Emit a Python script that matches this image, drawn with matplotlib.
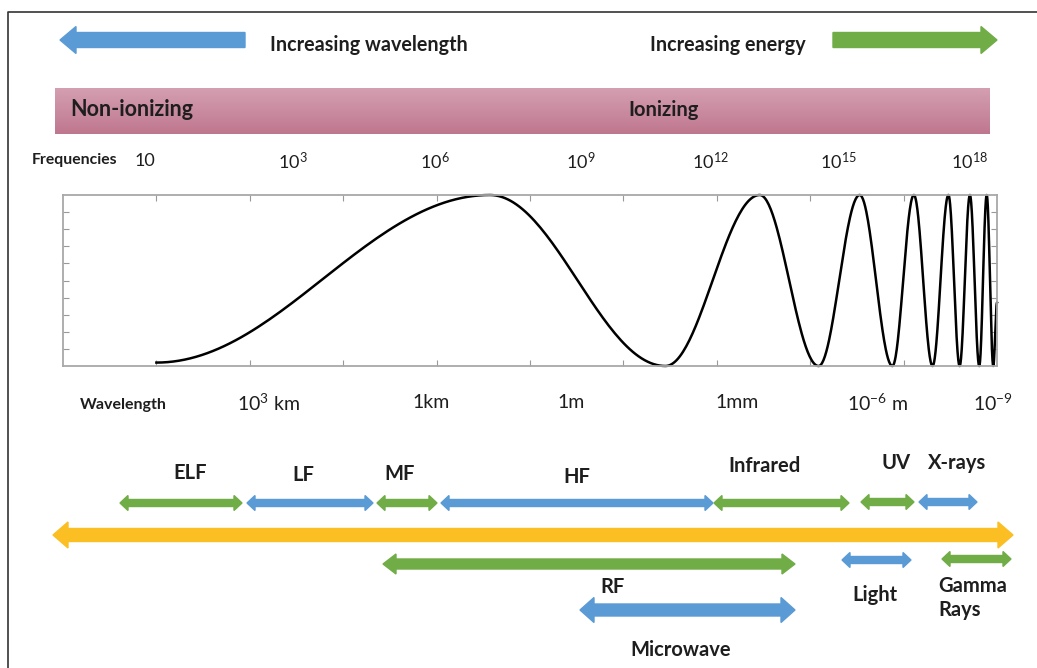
import numpy as np
import matplotlib
matplotlib.use('Agg')
import matplotlib.pyplot as plt
from matplotlib.patches import Polygon
from matplotlib.colors import LinearSegmentedColormap

plt.rcParams['font.family'] = ['Lato', 'DejaVu Sans']
plt.rcParams['mathtext.default'] = 'regular'

BLUE = '#5b9bd5'
GREEN = '#70ad47'
YELLOW = '#fbbf24'
TXT = '#1e1e1e'

# frequency / wavelength scale labels
freq_labels = ['10', '$10^{3}$', '$10^{6}$', '$10^{9}$', '$10^{12}$', '$10^{15}$', '$10^{18}$']
freq_pos = [0.88, 2.46, 3.98, 5.54, 6.93, 8.30, 9.71]
wave_labels = ['$10^{3}$ km', '1km', '1m', '1mm', '$10^{-6}$ m', '$10^{-9}$']
wave_pos = [2.2, 3.94, 5.44, 7.22, 8.72, 9.96]

# wave extrema (x in axis units, y 0..10)
ext_x = [1.0, 4.57, 6.45, 7.46, 8.09, 8.53, 8.88, 9.11, 9.31, 9.48, 9.60, 9.71, 9.81, 9.89, 9.96, 10.0]
ext_y = [0.2, 10, 0, 10, 0, 10, 0, 10, 0, 10, 0, 10, 0, 10, 0, 3.7]

# bands: name, start, end, row
band_names = ['ELF', 'LF', 'MF', 'HF', 'Infrared', 'UV', 'X-rays', 'RF', 'Light', 'Gamma\nRays', 'Microwave']
band_start = [120, 247, 377, 441, 714, 861, 919, 383, 842, 942, 580]
band_end = [242, 373, 437, 713, 849, 914, 977, 795, 911, 1011, 795]
band_color = [GREEN, BLUE, GREEN, BLUE, GREEN, GREEN, BLUE, GREEN, BLUE, GREEN, BLUE]
band_y = [503, 503, 503, 503, 503, 502, 502, 564, 560, 559, 610]
label_xy = [(190, 473), (303, 475), (400, 474), (577, 477), (765, 466), (896, 463), (957, 463),
            (612, 587), (875, 595), (938, 598), (681, 650)]


def arrow_poly(x0, x1, y, body, head, hlen, left=True, right=True):
    hb, hh = body / 2, head / 2
    pts = []
    if left:
        pts += [(x0, y), (x0 + hlen, y - hh), (x0 + hlen, y - hb)]
    else:
        pts += [(x0, y + hb), (x0, y - hb)]
    if right:
        pts += [(x1 - hlen, y - hb), (x1 - hlen, y - hh), (x1, y), (x1 - hlen, y + hh), (x1 - hlen, y + hb)]
    else:
        pts += [(x1, y - hb), (x1, y + hb)]
    if left:
        pts += [(x0 + hlen, y + hb), (x0 + hlen, y + hh)]
    return pts


fig = plt.figure(figsize=(10.37, 6.68), dpi=100)
ax = fig.add_axes([0, 0, 1, 1])
ax.set_xlim(0, 1037)
ax.set_ylim(668, 0)
ax.axis('off')

# frame
ax.plot([8, 8, 1037], [668, 12, 12], color='#333333', lw=1.2)

# top arrows
ax.add_patch(Polygon(arrow_poly(60, 245, 40, 15, 27, 16, left=True, right=False), color=BLUE))
ax.add_patch(Polygon(arrow_poly(833, 997, 40, 15, 27, 16, left=False, right=True), color=GREEN))
ax.text(270, 45, 'Increasing wavelength', fontsize=14.2, fontweight='bold', va='center', color=TXT)
ax.text(650, 45, 'Increasing energy', fontsize=14.2, fontweight='bold', va='center', color=TXT)

# ionizing band
cmap = LinearSegmentedColormap.from_list('pink', ['#d49fb1', '#bf778e'])
ax.imshow(np.linspace(0, 1, 50).reshape(-1, 1), cmap=cmap, aspect='auto',
          extent=(55, 990, 134, 88), zorder=1)
ax.text(70, 110, 'Non-ionizing', fontsize=15.5, fontweight='bold', va='center', color=TXT)
ax.text(628, 110, 'Ionizing', fontsize=14.5, fontweight='bold', va='center', color=TXT)

# wave axes
wx0, wx1, wy0, wy1 = 63, 997, 195, 366
wax = fig.add_axes([wx0 / 1037, (668 - wy1) / 668, (wx1 - wx0) / 1037, (wy1 - wy0) / 668])
wax.set_facecolor('none')
wax.set_xlim(0, 10)
wax.set_ylim(0, 10)
wax.set_xticks(np.arange(1, 10))
wax.set_yticks(np.arange(1, 10))
wax.tick_params(direction='in', length=4, color='#999999', top=True, right=True,
                labelbottom=False, labelleft=False)
for s in wax.spines.values():
    s.set_color('#a8a8a8')
    s.set_linewidth(1.3)

xs, ys = [], []
for i in range(len(ext_x) - 1):
    t = np.linspace(0, 1, 60)
    xa, xb, ya, yb = ext_x[i], ext_x[i + 1], ext_y[i], ext_y[i + 1]
    xs.append(xa + (xb - xa) * t)
    ys.append(ya + (yb - ya) * (1 - np.cos(np.pi * t)) / 2)
wax.plot(np.concatenate(xs), np.concatenate(ys), color='black', lw=1.8, clip_on=False)


# scale labels (placed in wave-axis units)
def ux(u):
    return wx0 + (wx1 - wx0) * u / 10


ax.text(32, 160, 'Frequencies', fontsize=11.3, fontweight='bold', va='center', color=TXT)
for lab, u in zip(freq_labels, freq_pos):
    ax.text(ux(u), 161, lab, fontsize=13, ha='center', va='center', color=TXT)
ax.text(80, 405, 'Wavelength', fontsize=11.5, fontweight='bold', va='center', color=TXT)
for lab, u in zip(wave_labels, wave_pos):
    ax.text(ux(u), 403, lab, fontsize=14, ha='center', va='center', color=TXT)

# yellow spectrum arrow
ax.add_patch(Polygon(arrow_poly(53, 1013, 535, 13, 26, 15), color=YELLOW))

# bands
for i, name in enumerate(band_names):
    if name == 'RF':
        body, head, hl = 10, 20, 13
    elif name == 'Microwave':
        body, head, hl = 12, 25, 14
    else:
        body, head, hl = 7, 15, 8
    ax.add_patch(Polygon(arrow_poly(band_start[i], band_end[i], band_y[i], body, head, hl),
                         color=band_color[i]))
    lx, ly = label_xy[i]
    if '\n' in name:
        ax.text(lx, ly, name, fontsize=14.5, fontweight='bold', ha='left', va='center',
                linespacing=1.3, color=TXT)
    else:
        ax.text(lx, ly, name, fontsize=14.5, fontweight='bold', ha='center', va='center', color=TXT)

fig.savefig('out.png', dpi=100)
